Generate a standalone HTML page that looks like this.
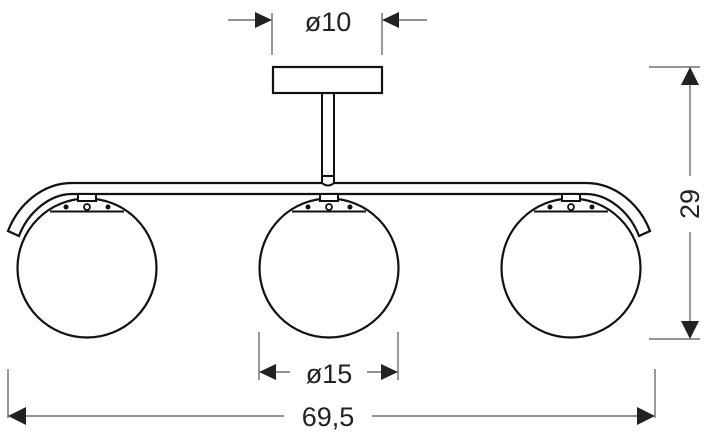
<!DOCTYPE html>
<html><head><meta charset="utf-8"><style>
html,body{margin:0;padding:0;background:#fff}
svg{display:block}
text{font-family:"Liberation Sans",sans-serif;fill:#222}
</style></head><body>
<svg width="711" height="440" viewBox="0 0 711 440" xmlns="http://www.w3.org/2000/svg">
<defs>
<g id="mount">
 <rect x="-9" y="194" width="18" height="7" fill="#fff" stroke="#111" stroke-width="2"/>
 <line x1="-37" y1="211.5" x2="37" y2="211.5" stroke="#111" stroke-width="2"/>
 <circle cx="-21" cy="207" r="2.5" fill="#111"/>
 <circle cx="21" cy="207" r="2.5" fill="#111"/>
 <circle cx="0" cy="207" r="3" fill="#fff" stroke="#111" stroke-width="1.8"/>
</g>
</defs>
<g fill="none" stroke="#111" stroke-width="2.2">
 <circle cx="87" cy="268" r="69.5"/>
 <circle cx="329" cy="268" r="69.5"/>
 <circle cx="571" cy="268" r="69.5"/>
</g>
<path d="M72,183 L586,183 C616,183 640,205 650,231 L639,236 C630,212 608,194 586,194 L72,194 C50,194 28,212 19,236 L8,231 C18,205 42,183 72,183 Z" fill="#fff" stroke="#111" stroke-width="2.2"/>
<use href="#mount" x="87"/>
<use href="#mount" x="329"/>
<use href="#mount" x="571"/>
<rect x="322" y="93" width="12" height="88" fill="#fff" stroke="#111" stroke-width="2"/>
<path d="M322,176 L334,176 L334,183 Q328,188 322,183 Z" fill="#fff" stroke="#111" stroke-width="2"/>
<rect x="273" y="67" width="109" height="26" fill="#fff" stroke="#111" stroke-width="2.2"/>
<g stroke="#555" stroke-width="1.2" fill="none">
 <line x1="272" y1="13" x2="272" y2="55"/>
 <line x1="382" y1="13" x2="382" y2="55"/>
 <line x1="228" y1="20" x2="260" y2="20"/>
 <line x1="394" y1="20" x2="427" y2="20"/>
 <line x1="649" y1="67" x2="700" y2="67"/>
 <line x1="649" y1="339" x2="700" y2="339"/>
 <line x1="690" y1="80" x2="690" y2="176"/>
 <line x1="690" y1="232" x2="690" y2="326"/>
 <line x1="259" y1="332" x2="259" y2="380"/>
 <line x1="398" y1="332" x2="398" y2="380"/>
 <line x1="270" y1="372" x2="290" y2="372"/>
 <line x1="367" y1="372" x2="386" y2="372"/>
 <line x1="8" y1="369" x2="8" y2="418"/>
 <line x1="655" y1="369" x2="655" y2="418"/>
 <line x1="20" y1="416" x2="284" y2="416"/>
 <line x1="372" y1="416" x2="643" y2="416"/>
</g>
<g fill="#222">
 <polygon points="272,20 255,12 255,28"/>
 <polygon points="382,20 399,12 399,28"/>
 <polygon points="690,67 681,85 699,85"/>
 <polygon points="690,339 681,321 699,321"/>
 <polygon points="259,372 276,364 276,380"/>
 <polygon points="398,372 381,364 381,380"/>
 <polygon points="8,416 26,407 26,425"/>
 <polygon points="655,416 637,407 637,425"/>
</g>
<text x="328" y="31" font-size="27" text-anchor="middle">ø10</text>
<text x="329" y="383" font-size="27" text-anchor="middle">ø15</text>
<text x="328" y="426" font-size="27" text-anchor="middle">69,5</text>
<text x="0" y="0" font-size="27" text-anchor="middle" transform="translate(699,204) rotate(-90)">29</text>
</svg>
</body></html>
